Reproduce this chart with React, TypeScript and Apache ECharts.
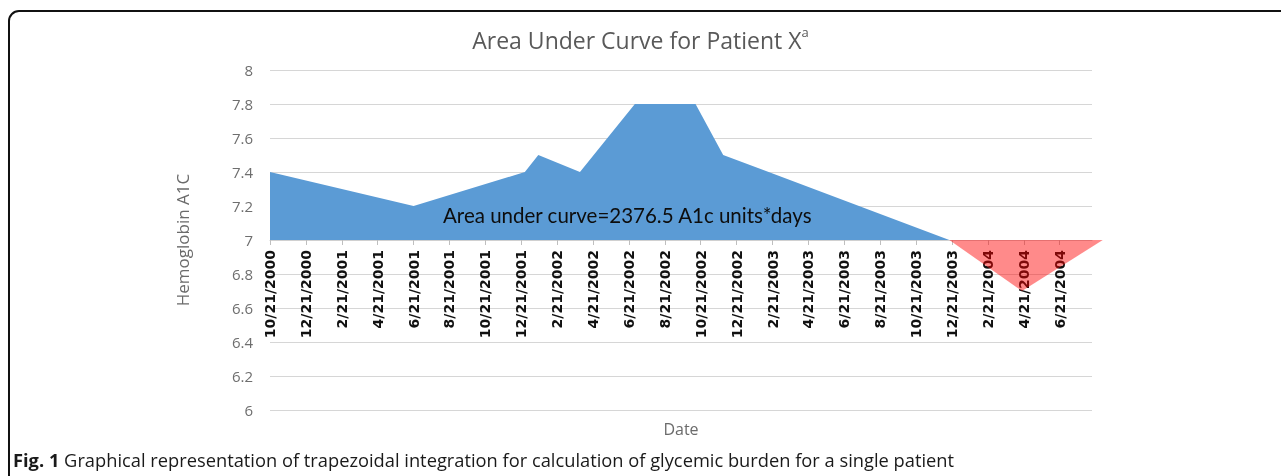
import React, { useEffect, useRef } from "react";
import * as echarts from "echarts";

// X positions are months elapsed since 10/21/2000 (ticks every 2 months)
const tickLabels = [
  "10/21/2000", "12/21/2000", "2/21/2001", "4/21/2001", "6/21/2001", "8/21/2001",
  "10/21/2001", "12/21/2001", "2/21/2002", "4/21/2002", "6/21/2002", "8/21/2002",
  "10/21/2002", "12/21/2002", "2/21/2003", "4/21/2003", "6/21/2003", "8/21/2003",
  "10/21/2003", "12/21/2003", "2/21/2004", "4/21/2004", "6/21/2004",
];
const tickStepMonths = 2;

const aboveMonths = [0, 8, 14.2, 14.95, 17.27, 20.33, 23.71, 25.25, 37.85];
const aboveA1c = [7.4, 7.2, 7.4, 7.5, 7.4, 7.8, 7.8, 7.5, 7.0];
const belowMonths = [37.85, 41.9, 46.4];
const belowA1c = [7.0, 6.7, 7.0];

const yTicks = [6, 8, 0.2]; // min, max, interval
const baseline = 7;
const xMaxMonths = 45.8;

const titleText = "Area Under Curve for Patient X";
const titleSup = "a";
const annotation = "Area under curve=2376.5 A1c units*days";
const xName = "Date";
const yName = "Hemoglobin A1C";
const captionBold = "Fig. 1";
const captionText =
  " Graphical representation of trapezoidal integration for calculation of glycemic burden for a single patient";

export default function App() {
  const ref = useRef<HTMLDivElement>(null);
  useEffect(() => {
    if (!ref.current) return;
    const chart = echarts.init(ref.current, null, { renderer: "svg" });
    const tickValues = tickLabels.map((_, i) => i * tickStepMonths);
    const font = "'Open Sans', sans-serif";
    // plot area pixels
    const plotLeft = 270;
    const plotRight = 1092;
    const plotTop = 70;
    const plotBottom = 410;
    const pxPerMonth = (plotRight - plotLeft) / xMaxMonths;
    // a second, wider invisible grid with the same scale lets the red area run past the plot edge
    const wideRight = 1120;
    const wideMax = (wideRight - plotLeft) / pxPerMonth;
    const axisOffset = -((baseline - yTicks[0]) / (yTicks[1] - yTicks[0])) * (plotBottom - plotTop);
    chart.setOption({
      animation: false,
      title: {
        text: `{m|${titleText}}{s|${titleSup}}`,
        left: "center",
        top: 20,
        textStyle: {
          fontWeight: "normal",
          rich: {
            m: { fontFamily: font, fontSize: 23, fontWeight: "normal", color: "#595959", lineHeight: 30 },
            s: { fontFamily: font, fontSize: 13, fontWeight: "normal", color: "#595959", verticalAlign: "top", lineHeight: 30, padding: [0, 0, 12, 0] },
          },
        },
      },
      grid: [
        { left: plotLeft, right: 1281 - plotRight, top: plotTop, bottom: 476 - plotBottom, containLabel: false },
        { left: plotLeft, right: 1281 - wideRight, top: plotTop, bottom: 476 - plotBottom, containLabel: false },
      ],
      xAxis: [
        {
          type: "value",
          gridIndex: 0,
          min: 0,
          max: xMaxMonths,
          interval: tickStepMonths,
          offset: axisOffset,
          name: xName,
          nameLocation: "middle",
          nameGap: 181,
          nameTextStyle: { fontFamily: font, fontSize: 16, color: "#6b6b6b" },
          splitLine: { show: false },
          axisLine: { show: true, lineStyle: { color: "#d0d0d0", width: 1 } },
          axisTick: { show: true, length: 5, lineStyle: { color: "#bfbfbf" }, customValues: tickValues },
          axisLabel: {
            customValues: tickValues,
            rotate: 90,
            margin: 10,
            fontFamily: "'DejaVu Sans', sans-serif",
            fontWeight: "bold",
            fontSize: 14,
            color: "#111",
            formatter: (v: number) => {
              const idx = Math.round(v / tickStepMonths);
              return Math.abs(v - idx * tickStepMonths) < 1e-6 && tickLabels[idx] ? tickLabels[idx] : "";
            },
          },
        },
        { type: "value", gridIndex: 1, min: 0, max: wideMax, show: false },
      ],
      yAxis: [
        {
          type: "value",
          gridIndex: 0,
          min: yTicks[0],
          max: yTicks[1],
          interval: yTicks[2],
          name: yName,
          nameLocation: "middle",
          nameGap: 79,
          nameTextStyle: { fontFamily: font, fontSize: 17, color: "#6b6b6b" },
          axisLine: { show: false },
          axisTick: { show: false },
          axisLabel: { fontFamily: font, fontSize: 15, color: "#6e6e6e", margin: 17 },
          splitLine: { lineStyle: { color: "#d6d6d6", width: 1.2 } },
        },
        { type: "value", gridIndex: 1, min: yTicks[0], max: yTicks[1], show: false },
      ],
      series: [
        {
          type: "line",
          xAxisIndex: 0,
          yAxisIndex: 0,
          data: aboveMonths.map((m, i) => [m, aboveA1c[i]]),
          symbol: "none",
          lineStyle: { width: 0 },
          areaStyle: { color: "#5b9bd5", opacity: 1, origin: baseline },
          z: 3,
        },
        {
          type: "line",
          xAxisIndex: 1,
          yAxisIndex: 1,
          data: belowMonths.map((m, i) => [m, belowA1c[i]]),
          symbol: "none",
          lineStyle: { width: 0 },
          areaStyle: { color: "rgba(255,0,0,0.46)", opacity: 1, origin: baseline },
          z: 3,
        },
      ],
      graphic: [
        {
          type: "rect",
          shape: { x: 9, y: 11, width: 1320, height: 520, r: 10 },
          style: { fill: "none", stroke: "#111", lineWidth: 2 },
          silent: true,
        },
        {
          type: "text",
          x: 443,
          y: 215,
          style: { text: annotation, fontFamily: "Lato, sans-serif", fontSize: 20.5, fill: "#0d0d0d", verticalAlign: "middle" },
          z: 10,
        },
        {
          type: "text",
          x: 13,
          y: 459,
          style: {
            text: `{b|${captionBold}}{r|${captionText}}`,
            verticalAlign: "middle",
            rich: {
              b: { fontFamily: font, fontSize: 18.3, fontWeight: "bold", fill: "#1a1a1a" },
              r: { fontFamily: font, fontSize: 18.3, fill: "#1a1a1a" },
            },
          },
        },
      ],
    });
    return () => chart.dispose();
  }, []);
  return <div ref={ref} style={{ position: "fixed", left: 0, top: 0, width: 1281, height: 476 }} />;
}
